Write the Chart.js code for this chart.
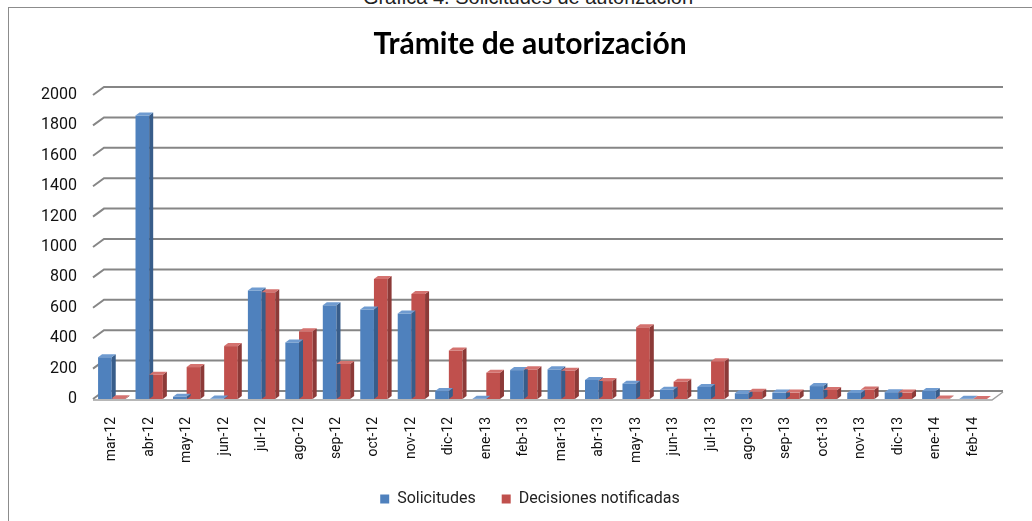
<!DOCTYPE html>
<html>
<head>
<meta charset="utf-8">
<script src="https://cdn.jsdelivr.net/npm/chart.js@4"></script>
<style>
  body { margin: 0; background: #fff; width: 1032px; height: 521px; overflow: hidden; position: relative; }
  #leyenda-sup { position: absolute; left: 0; width: 1056px; top: -14px; line-height: 20px; text-align: center;
    font: 20px "Liberation Sans", Arial, sans-serif; color: #222; }
  #marco { position: absolute; left: 8px; top: 7px; width: 1100px; height: 600px; border: 1px solid #8c8c8c; }
  #grafica { position: absolute; left: 0; top: 0; }
</style>
</head>
<body>
<div id="leyenda-sup">Gráfica 4. Solicitudes de autorización</div>
<div id="marco"></div>
<canvas id="grafica" width="1032" height="521"></canvas>
<script>
const meses = ['mar-12', 'abr-12', 'may-12', 'jun-12', 'jul-12', 'ago-12', 'sep-12', 'oct-12', 'nov-12', 'dic-12',
  'ene-13', 'feb-13', 'mar-13', 'abr-13', 'may-13', 'jun-13', 'jul-13', 'ago-13', 'sep-13', 'oct-13', 'nov-13',
  'dic-13', 'ene-14', 'feb-14'];
const solicitudes = [275, 1865, 15, 3, 713, 372, 616, 588, 562, 52, 2, 190, 195, 125, 101, 61, 79, 38, 42, 85, 40, 45, 52, 2];
const decisiones = [5, 160, 210, 348, 703, 446, 231, 789, 690, 319, 173, 195, 186, 118, 472, 114, 249, 48, 42, 60, 62, 42, 3, 0];
const yMax = 2000;
const yPaso = 200;

// profundidad del efecto 3D
const DX = 11, DY = 8;
const bx = 4, by = 3;

const caras = [
  { lado: '#385d8a', tapa: '#6f9bd0' },
  { lado: '#8c3a38', tapa: '#d4726f' }
];

const tresD = {
  id: 'tresD',
  afterLayout(chart) {
    // centrar título y leyenda un poco más a la derecha, como en Excel
    chart.titleBlock.left = 68;
    chart.legend.left = 68;
  },
  beforeDatasetsDraw(chart) {
    const { ctx, chartArea: a, scales: { y } } = chart;
    ctx.save();
    ctx.strokeStyle = '#868686';
    ctx.lineWidth = 2;
    for (let v = 0; v <= yMax; v += yPaso) {
      const yy = y.getPixelForValue(v);
      ctx.beginPath();
      ctx.moveTo(a.left, yy);
      ctx.lineTo(a.left + DX, yy - DY);
      ctx.lineTo(a.right + DX, yy - DY);
      ctx.stroke();
    }
    const y0 = y.getPixelForValue(0) + 1;
    ctx.lineWidth = 1.5;
    ctx.strokeStyle = '#a0a0a0';
    ctx.beginPath();
    ctx.moveTo(a.left, y0);
    ctx.lineTo(a.right, y0);
    ctx.lineTo(a.right + DX, y0 - DY);
    ctx.stroke();
    ctx.restore();
  },
  afterDatasetsDraw(chart) {
    const ctx = chart.ctx;
    ctx.save();
    chart.data.datasets.forEach((ds, i) => {
      chart.getDatasetMeta(i).data.forEach((bar) => {
        const l = bar.x - bar.width / 2, r = bar.x + bar.width / 2;
        const t = bar.y, b = bar.base;
        ctx.fillStyle = caras[i].lado;
        ctx.beginPath();
        ctx.moveTo(r, t); ctx.lineTo(r + bx, t - by); ctx.lineTo(r + bx, b - by); ctx.lineTo(r, b);
        ctx.closePath(); ctx.fill();
        ctx.fillStyle = caras[i].tapa;
        ctx.beginPath();
        ctx.moveTo(l, t); ctx.lineTo(l + bx, t - by); ctx.lineTo(r + bx, t - by); ctx.lineTo(r, t);
        ctx.closePath(); ctx.fill();
      });
    });
    ctx.restore();
  }
};

new Chart(document.getElementById('grafica').getContext('2d'), {
  type: 'bar',
  data: {
    labels: meses,
    datasets: [
      { label: 'Solicitudes', data: solicitudes, backgroundColor: '#4f81bd' },
      { label: 'Decisiones notificadas', data: decisiones, backgroundColor: '#c0504d' }
    ]
  },
  options: {
    responsive: false,
    animation: false,
    layout: { padding: { left: 0, right: 40, top: 0, bottom: 12 } },
    datasets: { bar: { categoryPercentage: 0.73, barPercentage: 1 } },
    plugins: {
      title: {
        display: true,
        text: 'Trámite de autorización',
        color: '#000',
        font: { family: 'Lato', size: 30, weight: 'bold' },
        padding: { top: 26, bottom: 33 }
      },
      legend: {
        position: 'bottom',
        maxHeight: 44,
        labels: {
          color: '#222',
          font: { family: 'Roboto', size: 16 },
          boxWidth: 9,
          boxHeight: 9,
          padding: 26
        }
      },
      tooltip: { enabled: false }
    },
    scales: {
      x: {
        afterFit(scale) { scale.height = 66; },
        grid: { display: false },
        border: { display: false },
        ticks: { color: '#111', font: { family: 'Roboto', size: 14 }, minRotation: 90, maxRotation: 90, padding: 10 }
      },
      y: {
        min: 0,
        max: yMax,
        afterFit(scale) { scale.width = 93; },
        grid: { display: false, drawTicks: false },
        border: { display: false },
        ticks: {
          stepSize: yPaso, color: '#111', font: { family: 'Roboto', size: 16 }, padding: 16,
          callback: (v) => String(v)
        }
      }
    }
  },
  plugins: [tresD]
});
</script>
</body>
</html>
